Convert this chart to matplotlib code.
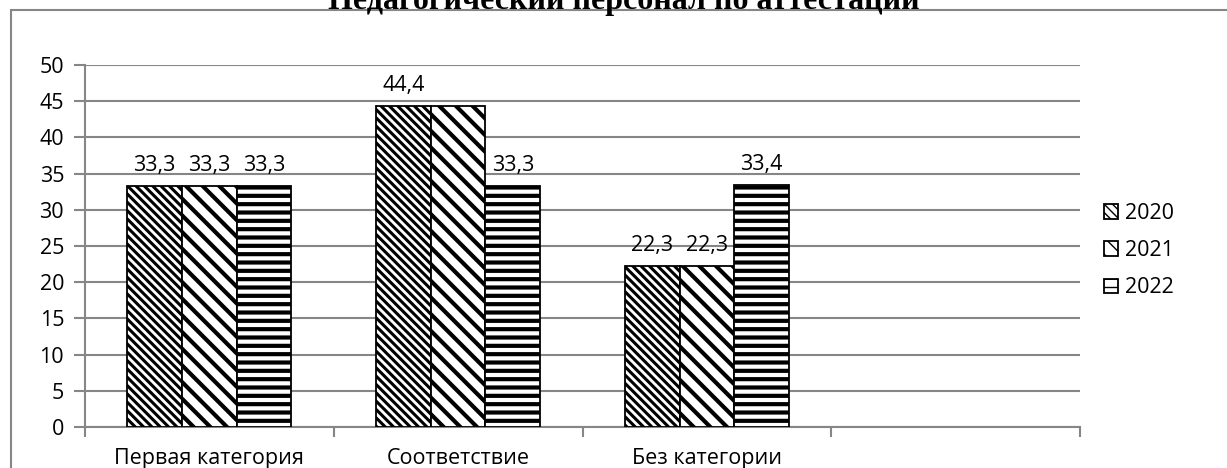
import numpy as np
import matplotlib.pyplot as plt
from matplotlib.patches import Rectangle

# Данные диаграммы
categories = ["Первая категория", "Соответствие", "Без категории", ""]
years = ["2020", "2021", "2022"]
v2020 = [33.3, 44.4, 22.3]
v2021 = [33.3, 44.4, 22.3]
v2022 = [33.3, 33.3, 33.4]
# какие подписи видны на исходной картинке
show2020 = [True, True, True]
show2021 = [True, False, True]
show2022 = [True, True, True]

series = [v2020, v2021, v2022]
shows = [show2020, show2021, show2022]
hatches = ["\\\\\\\\", "\\\\", "--"]
hatch_lw = [2.2, 3.0, 3.0]

plt.rcParams['font.family'] = ['Open Sans', 'DejaVu Sans']
grey = "#868686"

fig = plt.figure(figsize=(12.27, 4.68), dpi=100)
ax = fig.add_axes([85/1227, 1 - 427/468, (1080 - 85)/1227, (427 - 65)/468])

# рамка вокруг диаграммы
fig.patches.append(Rectangle((11/1227, -0.1), 1.2, 1 - 10/468 + 0.1,
                             transform=fig.transFigure, fill=False,
                             edgecolor=grey, linewidth=1.5))

x = np.arange(len(categories[:3]))
w = 0.22
for i, (vals, show) in enumerate(zip(series, shows)):
    bars = ax.bar(x + (i - 1) * w, vals, w, color="white", edgecolor="black",
                  linewidth=1.3, hatch=hatches[i], label=years[i], zorder=3)
    for b in bars:
        if hasattr(b, "set_hatch_linewidth"):
            b.set_hatch_linewidth(hatch_lw[i])
    for b, v, s in zip(bars, vals, show):
        if s:
            ax.annotate(f"{v:.1f}".replace(".", ","),
                        (b.get_x() + b.get_width() / 2, v),
                        xytext=(0, 7), textcoords="offset points",
                        ha="center", va="bottom", fontsize=15.5)

ax.set_xlim(-0.5, 3.5)
ax.set_ylim(0, 50)
ax.set_yticks(np.arange(0, 51, 5))
ax.set_xticks(np.arange(-0.5, 3.6, 1), minor=False)
ax.set_xticklabels([])
ax.set_xticks(np.arange(4), minor=True)
ax.set_xticklabels(categories, minor=True, fontsize=15.5)
ax.tick_params(axis="x", which="minor", length=0, pad=15)
ax.tick_params(axis="x", which="major", length=7, width=1.5, color=grey,
               direction="out")
ax.tick_params(axis="y", length=8, width=1.5, color=grey, labelsize=15.5, pad=7)

ax.grid(axis="y", color=grey, linewidth=1.5, zorder=0)
for s in ["top", "right"]:
    ax.spines[s].set_visible(False)
ax.spines["left"].set_color(grey)
ax.spines["left"].set_linewidth(1.5)
ax.spines["bottom"].set_color(grey)
ax.spines["bottom"].set_linewidth(1.5)

ax.legend(loc="center left", bbox_to_anchor=(1.005, 0.487), frameon=False,
          fontsize=15.5, handlelength=0.65, handleheight=0.65, handletextpad=0.3,
          labelspacing=0.75)

fig.text(624/1227, 1 - 9/468, "Педагогический персонал по аттестации",
         ha="center", va="baseline", fontsize=23, fontweight="bold",
         family="Liberation Serif")

fig.savefig("out.png", dpi=100)
